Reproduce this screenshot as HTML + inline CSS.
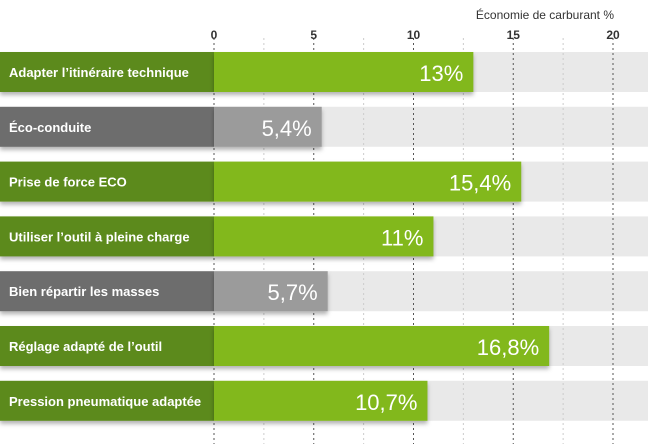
<!DOCTYPE html>
<html><head><meta charset="utf-8"><style>
body{margin:0;width:648px;height:444px;background:#fff;overflow:hidden;font-family:"Liberation Sans",sans-serif}
svg{display:block}
</style></head><body>
<svg id="chart" width="648" height="444" xmlns="http://www.w3.org/2000/svg">
<defs><filter id="sh" x="-5%" y="-20%" width="110%" height="160%"><feDropShadow dx="0" dy="3" stdDeviation="2" flood-color="#000" flood-opacity="0.3"/></filter></defs>
<text x="614" y="19" text-anchor="end" font-size="12" fill="#333">Économie de carburant %</text>
<g id="grid"></g>
<g id="bars"></g>
</svg>
<script>
const categories=["Adapter l’itinéraire technique","Éco-conduite","Prise de force ECO","Utiliser l’outil à pleine charge","Bien répartir les masses","Réglage adapté de l’outil","Pression pneumatique adaptée"];
const values=[13,5.4,15.4,11,5.7,16.8,10.7];
const labels=["13%","5,4%","15,4%","11%","5,7%","16,8%","10,7%"];
const highlight=[true,false,true,true,false,true,true];
const ticks=[0,5,10,15,20];
const NS="http://www.w3.org/2000/svg";
const x0=214,x1=613,max=20;
const xs=v=>x0+(x1-x0)*v/max;
const rowY=i=>52+i*54.8, bh=40;
function mk(t,a,p){const e=document.createElementNS(NS,t);for(const k in a)e.setAttribute(k,a[k]);p.appendChild(e);return e;}
const grid=document.getElementById('grid'),bars=document.getElementById('bars');
// background bands
categories.forEach((c,i)=>{
 const r=mk('rect',{x:x0,y:rowY(i),width:648-x0,height:bh,fill:'#e9e9e9'},grid);
 
 
});
for(let v=0;v<=max;v+=2.5){
 const major=ticks.includes(v);
 const l=mk('line',{x1:xs(v),x2:xs(v),y1:38,y2:444,stroke:major?'#555':'#ccc','stroke-width':1,'stroke-dasharray':'2,3'},grid);
 
 
}
ticks.forEach(t=>{
 const tx=mk('text',{x:xs(t),y:39,'text-anchor':'middle','font-size':12,'font-weight':'bold',fill:'#333'},grid);
 tx.textContent=t;
 
 
});
categories.forEach((c,i)=>{
 const y=rowY(i),g=mk('g',{},bars);
 
 
 const lb=mk('rect',{x:0,y:y,width:x0,height:bh,fill:highlight[i]?'#5b8a1d':'#6d6d6d',filter:'url(#sh)'},g);
 
 
 const b=mk('rect',{x:x0,y:y,width:xs(values[i])-x0,height:bh,fill:highlight[i]?'#82b81c':'#9b9b9b',filter:'url(#sh)'},g);
 
 
 const t=mk('text',{x:9,y:y+25,'font-size':13,'font-weight':'bold',fill:'#fff'},g);
 t.textContent=c;
 
 
 const v=mk('text',{x:xs(values[i])-10,y:y+29,'text-anchor':'end','font-size':22,fill:'#fff'},g);
 v.textContent=labels[i];
 
 
});
</script>
</body></html>
